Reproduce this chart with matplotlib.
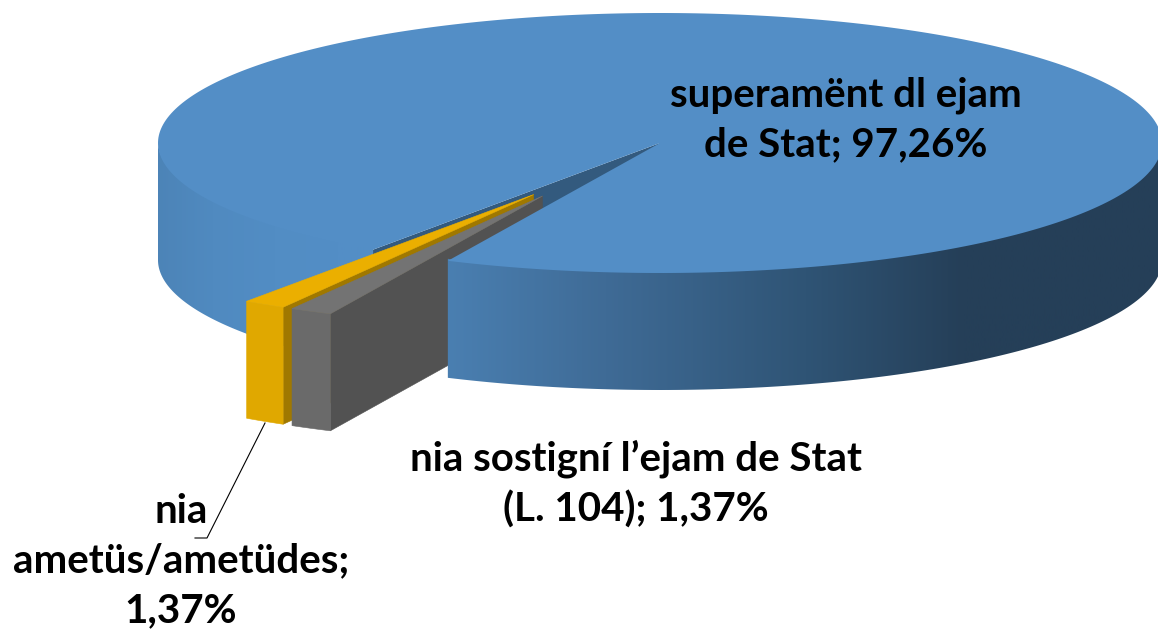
import numpy as np
import matplotlib.pyplot as plt
from matplotlib.colors import LinearSegmentedColormap
from matplotlib.patches import Polygon

# -------------------------
# Data
# -------------------------
categories = ["nia sostigní l’ejam de Stat\n(L. 104)", "nia\nametüs/ametüdes", "superamënt dl ejam\nde Stat"]
shares = [1.37, 1.37, 97.26]

# -------------------------
# Projection of the 3D pie (pixels of the picture)
# -------------------------
CX, CY = 660, 143
RX, RY = 502, 130
DEPTH = 117
START = 25.0        # degrees, clockwise from the front of the pie
EXPLODE = 0.47

edges = START + np.concatenate([[0], np.cumsum(shares)]) * 3.6


def rim(t, off=(0, 0)):
    t = np.radians(t)
    return CX + off[0] - RX * np.sin(t), CY + off[1] + RY * np.cos(t)


def poly(ax, xs, ys, color, z, lw=0.4):
    ax.fill(xs, ys, facecolor=color, edgecolor=color if lw else "none", lw=lw, zorder=z)


def gradient_side(ax, t0, t1, cmap, x0, x1, z):
    # side of the pie between two angles, shaded along x
    x, y = rim(np.linspace(t0, t1, 120))
    # start a little inside the top face, so no white seam shows on the rim
    outline = np.c_[np.r_[x, x[::-1]], np.r_[y - 2, y[::-1] + DEPTH]]
    grad = np.linspace(0, 1, 256).reshape(1, -1)
    im = ax.imshow(grad, cmap=cmap, extent=[x0, x1, 630, 0], aspect="auto", zorder=z, interpolation="bilinear")
    clip = Polygon(outline, closed=True, transform=ax.transData, facecolor="none", edgecolor="none")
    ax.add_patch(clip)
    im.set_clip_path(clip)


def small_slice(ax, t0, t1, skew, top, outer, wall, z):
    mid = np.radians((t0 + t1) / 2 + skew)
    off = (-RX * EXPLODE * np.sin(mid), RY * EXPLODE * np.cos(mid))
    tip = (CX + off[0], CY + off[1])
    arc_t = np.linspace(t0, t1, 12)
    ax_, ay_ = rim(arc_t, off)
    # cut wall on the side turned to the viewer
    poly(ax, [tip[0], ax_[0], ax_[0], tip[0]],
         [tip[1], ay_[0], ay_[0] + DEPTH, tip[1] + DEPTH], wall, z)
    # outer side
    poly(ax, np.r_[ax_, ax_[::-1]], np.r_[ay_, ay_[::-1] + DEPTH], outer, z + 0.1)
    # top
    poly(ax, np.r_[tip[0], ax_], np.r_[tip[1], ay_], top, z + 0.2)


# -------------------------
# Plot
# -------------------------
fig = plt.figure(figsize=(11.58, 6.30), dpi=100)
ax = fig.add_axes([0, 0, 1, 1])

left_cm = LinearSegmentedColormap.from_list(
    "l", [(0, "#4c83b6"), (0.25, "#508ac0"), (0.5, "#528dc4"), (0.75, "#538ec6"), (1, "#538ec6")])
right_cm = LinearSegmentedColormap.from_list(
    "r", [(0, "#4a7fb1"), (0.22, "#3f6b96"), (0.5, "#2f5475"), (0.72, "#253f58"), (1, "#253f58")])

big0, big1 = edges[2], edges[3]

# left part of the big slice, behind the small slices
gradient_side(ax, big0, 90, left_cm, 150, 400, 1)

# cut wall seen through the gap
px, py = rim(big0)
poly(ax, [CX, px, px, CX], [CY, py, py + DEPTH, CY + DEPTH], "#335a7e", 2, lw=0)

# exploded slices
small_slice(ax, edges[1], edges[2], 0.0, "#ebaf00", "#e0a800", "#a07800", 3)
small_slice(ax, edges[0], edges[1], 2.4, "#737373", "#6a6a6a", "#525252", 4)

# right part of the big slice, in front of the slices
gradient_side(ax, 270, big1, right_cm, 447, 1165, 5)

# top face of the big slice
tx, ty = rim(np.linspace(big0, big1, 360))
poly(ax, np.r_[CX, tx], np.r_[CY, ty], "#538ec6", 6, lw=0)

ax.set_xlim(0, 1158)
ax.set_ylim(630, 0)
ax.axis("off")

# -------------------------
# Labels
# -------------------------
pct = [f"{v:.2f}".replace(".", ",") + "%" for v in shares]
font = dict(family="Lato", weight="bold", fontsize=29, color="black",
            ha="center", va="center", linespacing=1.42, zorder=8)

ax.text(846, 120, f"{categories[2]}; {pct[2]}", **font)
ax.text(636, 484, f"{categories[0]}; {pct[0]}", **font)
ax.text(181, 561, f"{categories[1]};\n{pct[1]}", **font)

# leader line
ax.plot([265, 207, 195], [423, 538, 538], color="black", lw=0.8, zorder=7)

fig.savefig("out.png", dpi=100)
